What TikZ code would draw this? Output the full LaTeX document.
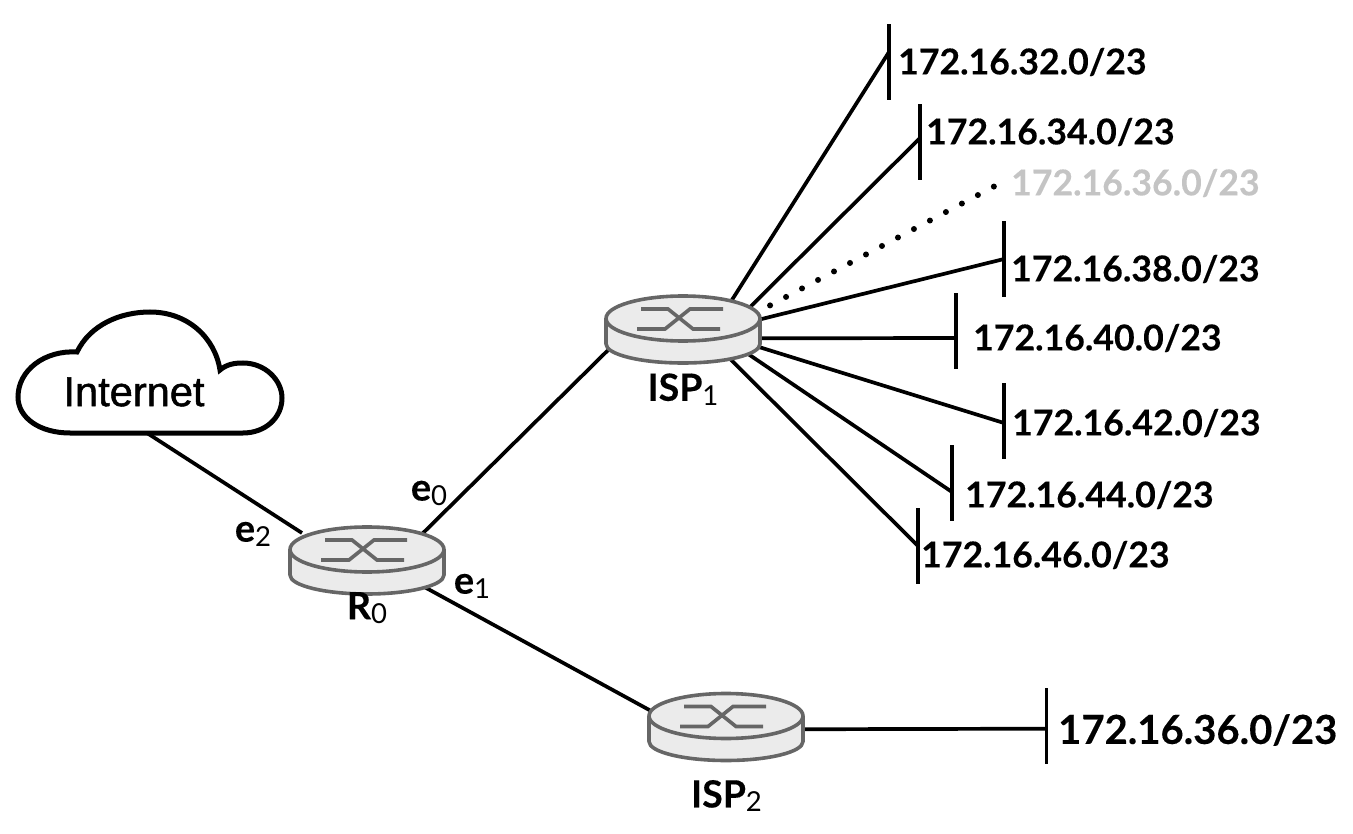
\documentclass[tikz,border=0pt]{standalone}
\usepackage{fontspec}
\setmainfont{Lato}[BoldFeatures={FakeBold=0.25}]
\newfontfamily\cloudfont[FakeBold=1.2]{Liberation Sans}
\usepackage{tikz}
\usetikzlibrary{shapes.geometric, positioning}
\definecolor{routerline}{HTML}{666666}
\definecolor{routerfill}{HTML}{EBEBEB}
\definecolor{fadedtext}{HTML}{C4C4C4}
\newcommand{\portidx}[1]{\raisebox{-4.5pt}{\fontsize{27.5}{30}\selectfont\mdseries #1}}

\begin{document}
\begin{tikzpicture}[
        x=1pt, y=-1pt,
        routernode/.style={ellipse, minimum width=157pt, minimum height=70pt, inner sep=0pt},
        routername/.style={font=\fontsize{37.5}{42}\selectfont\bfseries, inner sep=0pt},
        ifname/.style={font=\fontsize{38}{42}\selectfont\bfseries, inner sep=0pt},
        netbar/.style={fill=black, minimum width=3.8pt, minimum height=76pt, inner sep=0pt},
        netlabel/.style={anchor=west, font=\fontsize{35.6}{40}\selectfont\bfseries, inner sep=0pt},
        link/.style={line width=3.7pt, black},
        pics/router/.style={code={
            \draw[line width=3.6pt, routerline, fill=routerfill, line join=round]
                (-77,-10.5) -- (-77,15) .. controls (-77,25.5) and (-42.5,34) .. (0,34)
                .. controls (42.5,34) and (77,25.5) .. (77,15) -- (77,-10.5);
            \draw[line width=3.6pt, routerline, fill=routerfill] (0,-10.5) ellipse [x radius=77, y radius=22.5];
            \draw[line width=3.6pt, routerline] (-42,-20) -- (-15,-20) -- (10,0) -- (37,0);
            \draw[line width=3.6pt, routerline] (-46,0) -- (-18,0) -- (7,-20) -- (40,-20);
        }}
    ]
        \useasboundingbox (0,0) rectangle (1353,834);

        % Routers
        \node[routernode] (r0) at (367,560) {};
        \node[routernode] (isp1) at (683,329) {};
        \node[routernode] (isp2) at (726,726.5) {};

        % Networks
        \node[netbar] (n32) at (889,62) {};
        \node[netbar] (n34) at (920,142) {};
        \coordinate (n36) at (994,186.5);
        \node[netbar] (n38) at (1004,259) {};
        \node[netbar] (n40) at (956,331) {};
        \node[netbar] (n42) at (1004,421) {};
        \node[netbar] (n44) at (952,483) {};
        \node[netbar] (n46) at (918,546) {};
        \node[netbar] (n36b) at (1046.5,726) {};

        % Labels
        \node[netlabel] (l32) at (898,62) {172.16.32.0/23};
        \node[netlabel] (l34) at (926,132) {172.16.34.0/23};
        \node[netlabel, text=fadedtext] (l36) at (1011,183) {172.16.36.0/23};
        \node[netlabel] (l38) at (1011,269) {172.16.38.0/23};
        \node[netlabel] (l40) at (973,338) {172.16.40.0/23};
        \node[netlabel] (l42) at (1012,423) {172.16.42.0/23};
        \node[netlabel] (l44) at (965,495) {172.16.44.0/23};
        \node[netlabel] (l46) at (921,555) {172.16.46.0/23};
        \node[netlabel, font=\fontsize{40}{44}\selectfont\bfseries] (l36b) at (1058,730) {172.16.36.0/23};

        \node[ifname] (e0) at (429,493) {e\portidx{0}};
        \node[ifname] (e1) at (472,586) {e\portidx{1}};
        \node[ifname] (e2) at (253,534) {e\portidx{2}};

        % Cloud
        \draw[line width=5pt, fill=white] (70,433) .. controls (40,433) and (18,418) .. (18,397)
            .. controls (18,370) and (45,350) .. (77,352)
            .. controls (90,325) and (120,312) .. (150,312)
            .. controls (188,312) and (215,338) .. (220,370)
            .. controls (227,364) and (235,363) .. (243,363)
            .. controls (265,363) and (282,380) .. (282,398)
            .. controls (282,418) and (265,433) .. (243,433) -- cycle;
        \node[font=\fontsize{41.6}{46}\cloudfont, inner sep=0pt] (internet) at (134,392) {Internet};
        \coordinate (cloudfoot) at (147,433);
        \coordinate (r0west) at (302,533);

        % Links
        \draw[link] (cloudfoot) -- (r0west);
        \draw[link] (r0.25) -- (isp1.193);
        \draw[link] (r0.-25) -- (isp2.169);
        \draw[link] (isp1.30) -- ([yshift=10pt]n32.center);
        \draw[link] (isp1.17) -- ([yshift=4pt]n34.center);
        \draw[line width=6pt, line cap=round, dash pattern=on 0pt off 18.1pt] (isp1.12) -- (n36);
        \draw[link] (isp1.7) -- (n38.center);
        \draw[link] (isp1.-7) -- ([yshift=-7pt]n40.center);
        \draw[link] (isp1.-13) -- ([yshift=-2pt]n42.center);
        \draw[link] (isp1.-20) -- ([yshift=-9pt]n44.center);
        \draw[link] (isp1.-32) -- (n46.center);
        \draw[link] (isp2.-2) -- ([yshift=-2.7pt]n36b.center);

        % Router bodies
        \foreach \r in {r0, isp1, isp2}
            \pic at (\r) {router};

        % Router names
        \node[routername, below=9pt of isp1] (isp1name) {ISP\portidx{1}};
        \node[routername] (r0name) at (367,608) {R\portidx{0}};
        \node[routername] (isp2name) at (726.5,796) {ISP\portidx{2}};
    \end{tikzpicture}
\end{document}
